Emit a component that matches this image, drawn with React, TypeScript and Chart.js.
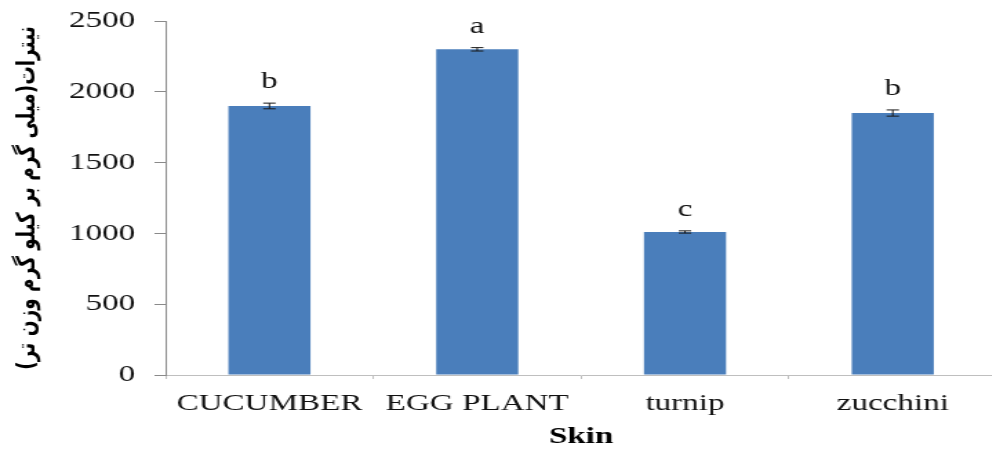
import React, { useEffect, useRef } from "react";
import { Chart, registerables } from "chart.js";

Chart.register(...registerables);

const categories = ["CUCUMBER", "EGG PLANT", "turnip", "zucchini"];
const nitrateValues = [1900, 2300, 1010, 1850];
const errorValues = [20, 12, 8, 22];
const letterLabels = ["b", "a", "c", "b"];
const yTicks = [0, 500, 1000, 1500, 2000, 2500];
const yTitle = "نیترات(میلی گرم بر کیلو گرم وزن تر)";
const xTitle = "Skin";

const STRETCH = 1.38;
const LOGICAL_W = 730;
const H = 454;
const SERIF = '"Liberation Serif", "Times New Roman", serif';

const errorPlugin = {
  id: "errorLetters",
  afterDatasetsDraw(chart: any) {
    const ctx = chart.ctx;
    const meta = chart.getDatasetMeta(0);
    const y = chart.scales.y;
    ctx.save();
    meta.data.forEach((bar: any, i: number) => {
      const v = nitrateValues[i];
      const e = errorValues[i];
      const x = bar.x;
      const yt = y.getPixelForValue(v + e);
      const yb = y.getPixelForValue(v - e);
      ctx.strokeStyle = "#1a1a1a";
      ctx.lineWidth = 1;
      ctx.beginPath();
      ctx.moveTo(x, yt);
      ctx.lineTo(x, yb);
      ctx.moveTo(x - 4.5, yt);
      ctx.lineTo(x + 4.5, yt);
      ctx.moveTo(x - 4.5, yb);
      ctx.lineTo(x + 4.5, yb);
      ctx.stroke();
      ctx.fillStyle = "#111";
      ctx.font = `24px ${SERIF}`;
      ctx.textAlign = "center";
      ctx.textBaseline = "alphabetic";
      ctx.fillText(letterLabels[i], x, yt - 15);
    });
    ctx.restore();
  },
};

export default function App() {
  const ref = useRef<HTMLCanvasElement | null>(null);
  useEffect(() => {
    if (!ref.current) return;
    const chart = new Chart(ref.current, {
      type: "bar",
      data: {
        labels: categories,
        datasets: [
          {
            data: nitrateValues,
            backgroundColor: "#4a7ebb",
            borderWidth: 0,
            categoryPercentage: 1,
            barPercentage: 0.395,
          },
        ],
      },
      options: {
        animation: false,
        responsive: false,
        devicePixelRatio: 1,
        layout: { padding: { top: 21, right: 7.5, left: 0, bottom: 0 } },
        plugins: {
          legend: { display: false },
          tooltip: { enabled: false },
        },
        scales: {
          x: {
            type: "category",
            grid: {
              display: true,
              drawOnChartArea: false,
              drawTicks: true,
              tickLength: 4,
              color: "#bfbfbf",
              offset: true,
            },
            border: { color: "#bfbfbf", width: 1 },
            ticks: {
              font: { family: SERIF, size: 24 },
              color: "#111",
              padding: 10,
              maxRotation: 0,
              autoSkip: false,
            },
            title: {
              display: true,
              text: xTitle,
              font: { family: SERIF, size: 24, weight: "bold" },
              color: "#000",
              padding: { top: 0, bottom: 3 },
            },
            afterFit: (s: any) => {
              s.height = 79;
              s.paddingLeft = 0;
              s.paddingRight = 0;
            },
          },
          y: {
            min: 0,
            max: 2500,
            afterBuildTicks: (s: any) => {
              s.ticks = yTicks.map((v) => ({ value: v }));
            },
            ticks: {
              font: { family: SERIF, size: 24 },
              color: "#111",
              padding: 14,
              callback: (v: any) => String(v),
            },
            grid: {
              drawOnChartArea: false,
              drawTicks: true,
              tickLength: 8,
              color: "#8a8a8a",
            },
            border: { color: "#8a8a8a", width: 1 },
            title: {
              display: true,
              text: yTitle,
              font: { family: '"DejaVu Sans"', size: 18.5, weight: "bold" },
              color: "#000",
              padding: { top: 9, bottom: 0 },
            },
            afterFit: (s: any) => {
              s.width = 120;
              s.paddingTop = 0;
              s.paddingBottom = 0;
            },
          },
        },
      },
      plugins: [errorPlugin],
    } as any);
    return () => chart.destroy();
  }, []);
  return (
    <div
      style={{
        position: "fixed",
        left: 0,
        top: 0,
        width: 992,
        height: H,
        overflow: "hidden",
        background: "#fff",
      }}
    >
      <canvas
        ref={ref}
        width={LOGICAL_W}
        height={H}
        style={{ width: `${LOGICAL_W * STRETCH}px`, height: `${H}px`, display: "block" }}
      />
    </div>
  );
}
